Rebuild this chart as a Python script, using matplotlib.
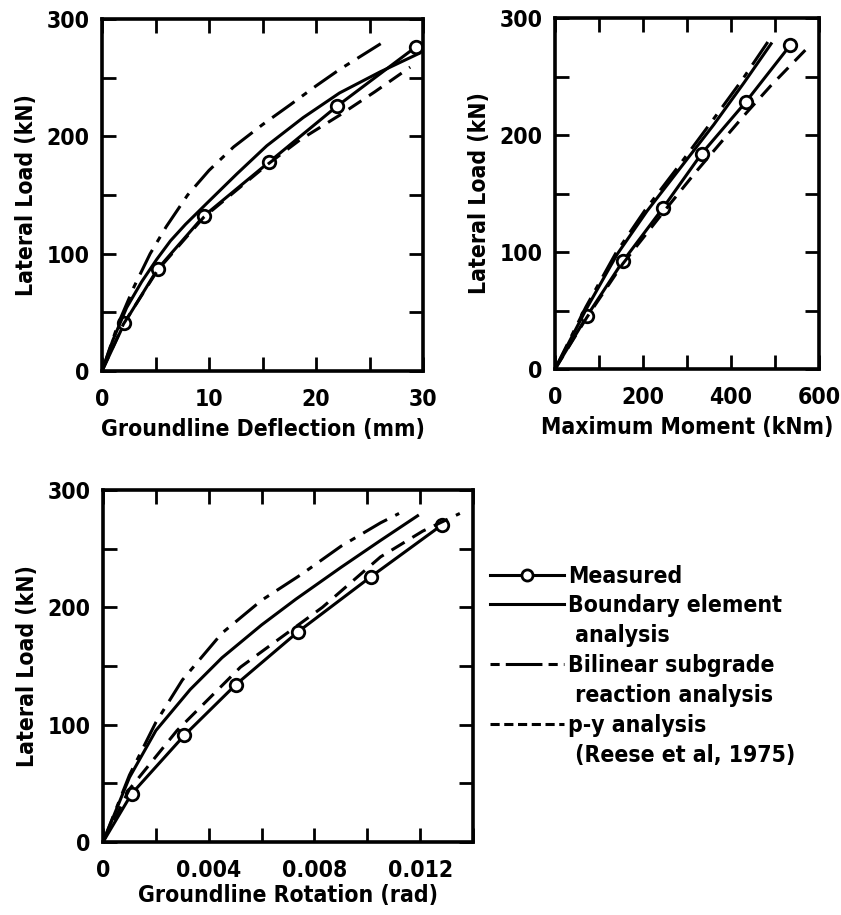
import matplotlib.pyplot as plt
from matplotlib.lines import Line2D

plt.rcParams['font.family'] = 'DejaVu Sans'
plt.rcParams['font.weight'] = 'bold'
plt.rcParams['font.stretch'] = 'condensed'

# Top left: lateral load vs groundline deflection (mm)
meas_defl = [0, 2.1, 5.2, 9.5, 15.6, 22.0, 29.3]
meas_defl_load = [0, 41, 87, 132, 178, 226, 276]
be_defl = [0, 1, 2.3, 3.7, 5.1, 6.4, 7.8, 9.8, 12.6, 15.4, 18.8, 22.2, 26.0, 29.7]
be_defl_load = [0, 26, 54, 76, 95, 111, 125, 143, 168, 192, 216, 237, 255, 271]
bl_defl = [0, 1.5, 3, 4.5, 6, 8, 10, 12.3, 15, 17.6, 20, 22.2, 24.3, 26.4]
bl_defl_load = [0, 40, 72, 100, 123, 150, 171, 191, 210, 227, 243, 257, 269, 281]
py_defl = [0, 2.0, 5.2, 9.5, 15.6, 18.5, 22.2, 25.5, 28.8]
py_defl_load = [0, 40, 86, 131, 177, 197, 218, 238, 259]

# Top right: lateral load vs maximum moment (kNm)
meas_mom = [0, 72, 154, 246, 333, 433, 535]
meas_mom_load = [0, 45, 92, 138, 184, 228, 277]
be_mom = [0, 72, 141, 209, 285, 361, 430, 491]
be_mom_load = [0, 52, 98, 135, 172, 209, 245, 278]
bl_mom = [0, 70, 138, 205, 280, 355, 425, 488]
bl_mom_load = [0, 53, 99, 136, 173, 211, 247, 282]
py_mom = [0, 72, 154, 246, 319, 380, 435, 490, 575]
py_mom_load = [0, 44, 90, 134, 168, 195, 219, 242, 275]

# Bottom: lateral load vs groundline rotation (rad)
meas_rot = [0, 0.00108, 0.00308, 0.00502, 0.00737, 0.01013, 0.01281]
meas_rot_load = [0, 41, 91, 134, 179, 226, 270]
be_rot = [0, 0.001, 0.002, 0.0033, 0.0045, 0.006, 0.0073, 0.009, 0.0105, 0.0119]
be_rot_load = [0, 55, 95, 130, 157, 185, 207, 234, 257, 278]
bl_rot = [0, 0.001, 0.002, 0.003, 0.0045, 0.006, 0.0075, 0.009, 0.0105, 0.0112]
bl_rot_load = [0, 57, 102, 138, 178, 206, 228, 252, 272, 280]
py_rot = [0, 0.001, 0.0028, 0.0052, 0.0083, 0.0105, 0.0121, 0.0135]
py_rot_load = [0, 45, 95, 149, 200, 243, 265, 280]

load_ticks = [0, 50, 100, 150, 200, 250, 300]
load_labels = ['0', '', '100', '', '200', '', '300']

FS = 16.5
LW = 2.2


def draw(ax, xm, ym, xb, yb, xl, yl, xp, yp):
    ax.plot(xm, ym, color='k', lw=LW, marker='o', markersize=9, mfc='white',
            mec='k', mew=2, markevery=slice(1, None))
    ax.plot(xb, yb, color='k', lw=LW)
    ax.plot(xl, yl, color='k', lw=LW, dashes=(9, 3, 2, 3))
    ax.plot(xp, yp, color='k', lw=LW, dashes=(5, 3))
    ax.set_ylim(0, 300)
    ax.set_yticks(load_ticks)
    ax.set_yticklabels(load_labels)
    ax.set_ylabel('Lateral Load (kN)', fontsize=FS, fontweight='bold', labelpad=6)
    ax.tick_params(direction='in', length=10, width=2, top=True, right=True,
                   labelsize=FS)
    ax.tick_params(axis='x', pad=12)
    ax.tick_params(axis='y', pad=9)
    for s in ax.spines.values():
        s.set_linewidth(2.6)


fig = plt.figure(figsize=(8.41, 9.15), dpi=100)

ax1 = fig.add_axes([0.1213, 0.5945, 0.3817, 0.3847])
draw(ax1, meas_defl, meas_defl_load, be_defl, be_defl_load,
     bl_defl, bl_defl_load, py_defl, py_defl_load)
ax1.set_xlim(0, 30)
ax1.set_xticks([0, 5, 10, 15, 20, 25, 30])
ax1.set_xticklabels(['0', '', '10', '', '20', '', '30'])
ax1.set_xlabel('Groundline Deflection (mm)', fontsize=FS, fontweight='bold', labelpad=5)

ax2 = fig.add_axes([0.660, 0.5967, 0.3139, 0.3836])
draw(ax2, meas_mom, meas_mom_load, be_mom, be_mom_load,
     bl_mom, bl_mom_load, py_mom, py_mom_load)
ax2.set_xlim(0, 600)
ax2.set_xticks([0, 100, 200, 300, 400, 500, 600])
ax2.set_xticklabels(['0', '', '200', '', '400', '', '600'])
ax2.set_xlabel('Maximum Moment (kNm)', fontsize=FS, fontweight='bold', labelpad=5)

ax3 = fig.add_axes([0.1225, 0.0798, 0.44, 0.3847])
draw(ax3, meas_rot, meas_rot_load, be_rot, be_rot_load,
     bl_rot, bl_rot_load, py_rot, py_rot_load)
ax3.set_xlim(0, 0.014)
ax3.set_xticks([0, 0.002, 0.004, 0.006, 0.008, 0.010, 0.012, 0.014])
ax3.set_xticklabels(['0', '', '0.004', '', '0.008', '', '0.012', ''])
ax3.set_xlabel('Groundline Rotation (rad)', fontsize=FS, fontweight='bold', labelpad=2)

blank = Line2D([], [], color='none')
handles = [
    Line2D([], [], color='k', lw=LW, marker='o', markersize=8, mfc='white', mew=2),
    Line2D([], [], color='k', lw=LW),
    blank,
    Line2D([], [], color='k', lw=LW, dashes=(3, 2, 12, 2)),
    blank,
    Line2D([], [], color='k', lw=LW, dashes=(3, 1.5)),
    blank,
]
labels = ['Measured', 'Boundary element', ' analysis', 'Bilinear subgrade',
          ' reaction analysis', 'p-y analysis', ' (Reese et al, 1975)']
fig.legend(handles, labels, loc='upper left', bbox_to_anchor=(0.583, 0.383),
           frameon=False, fontsize=FS, handlelength=3.2, handletextpad=0.2,
           labelspacing=0.3, borderpad=0, borderaxespad=0)

fig.savefig('out.png', dpi=100)
